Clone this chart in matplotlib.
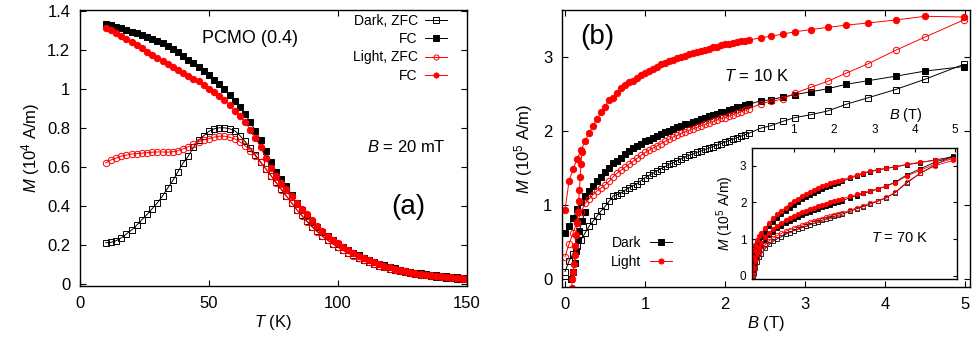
import numpy as np
import matplotlib
matplotlib.use('Agg')
import matplotlib.pyplot as plt

plt.rcParams['font.family'] = ['Liberation Sans', 'DejaVu Sans']
plt.rcParams['mathtext.fontset'] = 'custom'
plt.rcParams['mathtext.rm'] = 'Liberation Sans'
plt.rcParams['mathtext.it'] = 'Liberation Sans:italic'
plt.rcParams['mathtext.bf'] = 'Liberation Sans:bold'

# ---------------- Panel (a): M vs T at B = 20 mT ----------------
T_a = np.arange(10, 151, 2)
dark_zfc = [0.21, 0.212, 0.22, 0.235, 0.255, 0.275, 0.30, 0.328, 0.355, 0.385,
            0.415, 0.45, 0.49, 0.53, 0.575, 0.62, 0.655, 0.70, 0.735, 0.76,
            0.782, 0.795, 0.80, 0.80, 0.795, 0.785, 0.76, 0.73, 0.695, 0.66,
            0.625, 0.59, 0.555, 0.52, 0.485, 0.45, 0.415, 0.38, 0.35, 0.32,
            0.293, 0.268, 0.245, 0.224, 0.205, 0.188, 0.172, 0.158, 0.145, 0.133,
            0.121, 0.11, 0.10, 0.091, 0.083, 0.076, 0.069, 0.063, 0.058, 0.053,
            0.049, 0.045, 0.042, 0.039, 0.036, 0.033, 0.030, 0.027, 0.025, 0.023, 0.022]
dark_fc = [1.335, 1.327, 1.318, 1.31, 1.30, 1.294, 1.285, 1.275, 1.265, 1.255,
           1.245, 1.233, 1.22, 1.205, 1.19, 1.17, 1.15, 1.132, 1.112, 1.09,
           1.07, 1.048, 1.025, 0.998, 0.97, 0.94, 0.909, 0.87, 0.83, 0.785,
           0.735, 0.68, 0.625, 0.575, 0.535, 0.50, 0.455, 0.414, 0.38, 0.347,
           0.318, 0.29, 0.265, 0.243, 0.223, 0.203, 0.187, 0.172, 0.158, 0.145,
           0.131, 0.12, 0.11, 0.101, 0.093, 0.085, 0.078, 0.072, 0.066, 0.061,
           0.056, 0.052, 0.049, 0.046, 0.043, 0.040, 0.037, 0.035, 0.033, 0.031, 0.029]
light_zfc = [0.62, 0.635, 0.645, 0.655, 0.66, 0.665, 0.668, 0.67, 0.672, 0.675,
             0.676, 0.676, 0.675, 0.677, 0.683, 0.692, 0.703, 0.715, 0.728, 0.738,
             0.745, 0.752, 0.757, 0.757, 0.752, 0.743, 0.728, 0.708, 0.683, 0.655,
             0.622, 0.59, 0.555, 0.518, 0.483, 0.45, 0.415, 0.38, 0.348, 0.318,
             0.29, 0.265, 0.242, 0.222, 0.203, 0.186, 0.17, 0.156, 0.143, 0.131,
             0.12, 0.11, 0.10, 0.092, 0.084, 0.077, 0.07, 0.064, 0.059, 0.054,
             0.05, 0.046, 0.043, 0.04, 0.037, 0.034, 0.032, 0.030, 0.028, 0.026, 0.025]
light_fc = [1.31, 1.30, 1.285, 1.27, 1.255, 1.24, 1.225, 1.21, 1.19, 1.175,
            1.16, 1.145, 1.13, 1.11, 1.095, 1.08, 1.065, 1.05, 1.04, 1.02,
            1.00, 0.985, 0.965, 0.945, 0.915, 0.885, 0.86, 0.83, 0.79, 0.75,
            0.70, 0.645, 0.595, 0.55, 0.515, 0.485, 0.45, 0.415, 0.385, 0.355,
            0.325, 0.297, 0.27, 0.247, 0.226, 0.206, 0.189, 0.173, 0.158, 0.144,
            0.131, 0.12, 0.109, 0.10, 0.091, 0.083, 0.076, 0.07, 0.064, 0.059,
            0.054, 0.05, 0.046, 0.043, 0.04, 0.037, 0.035, 0.032, 0.030, 0.028, 0.026]

# ---------------- Panel (b): M vs B at T = 10 K ----------------
B_dense = np.round(np.arange(0, 2.31, 0.05), 2)
B_sparse = [2.45, 2.57, 2.72, 2.87, 3.07, 3.28, 3.51, 3.79, 4.13, 4.5, 4.98]
dark_up_dense = [0.10, 0.24, 0.34, 0.44, 0.53, 0.62, 0.71, 0.78, 0.85, 0.92,
                 0.98, 1.05, 1.12, 1.14, 1.16, 1.20, 1.23, 1.26, 1.29, 1.33,
                 1.37, 1.40, 1.43, 1.46, 1.49, 1.52, 1.55, 1.57, 1.60, 1.62,
                 1.65, 1.67, 1.69, 1.71, 1.73, 1.75, 1.77, 1.79, 1.81, 1.83,
                 1.85, 1.87, 1.89, 1.91, 1.93, 1.95, 1.97]
dark_up_sparse = [2.04, 2.07, 2.13, 2.18, 2.22, 2.27, 2.36, 2.45, 2.56, 2.70, 2.90]
dark_down_dense = [0.62, 0.72, 0.82, 0.94, 1.04, 1.12, 1.19, 1.25, 1.32, 1.38,
                   1.44, 1.50, 1.57, 1.60, 1.64, 1.69, 1.73, 1.77, 1.80, 1.83,
                   1.86, 1.88, 1.91, 1.93, 1.96, 1.98, 2.00, 2.02, 2.05, 2.07,
                   2.09, 2.10, 2.12, 2.14, 2.16, 2.18, 2.20, 2.21, 2.23, 2.25,
                   2.26, 2.28, 2.30, 2.32, 2.33, 2.35, 2.36]
dark_down_sparse = [2.41, 2.42, 2.46, 2.49, 2.53, 2.57, 2.63, 2.68, 2.74, 2.81, 2.87]
light_up_dense = [0.30, 0.47, 0.62, 0.77, 0.90, 1.02, 1.08, 1.14, 1.19, 1.23,
                  1.27, 1.32, 1.38, 1.43, 1.47, 1.51, 1.55, 1.59, 1.63, 1.67,
                  1.71, 1.74, 1.77, 1.80, 1.83, 1.86, 1.89, 1.92, 1.94, 1.97,
                  1.99, 2.01, 2.03, 2.05, 2.07, 2.09, 2.11, 2.13, 2.15, 2.17,
                  2.18, 2.20, 2.22, 2.24, 2.26, 2.28, 2.30]
light_up_sparse = [2.37, 2.40, 2.43, 2.51, 2.59, 2.67, 2.78, 2.91, 3.09, 3.27, 3.50]
light_down_dense = [0.93, 1.32, 1.48, 1.62, 1.74, 1.86, 1.97, 2.07, 2.16, 2.25,
                    2.33, 2.42, 2.45, 2.52, 2.58, 2.62, 2.66, 2.68, 2.72, 2.75,
                    2.78, 2.81, 2.84, 2.87, 2.90, 2.92, 2.94, 2.96, 2.98, 3.00,
                    3.02, 3.04, 3.05, 3.07, 3.08, 3.10, 3.11, 3.13, 3.14, 3.16,
                    3.17, 3.18, 3.19, 3.20, 3.21, 3.22, 3.23]
light_down_sparse = [3.26, 3.28, 3.31, 3.34, 3.37, 3.40, 3.43, 3.46, 3.50, 3.55, 3.54]
dark_ret_B = [0.08, 0.10, 0.12, 0.14, 0.16, 0.18, 0.21, 0.25]
dark_ret_M = [0.0, 0.10, 0.22, 0.38, 0.52, 0.65, 0.78, 0.90]
light_ret_B = [0.085, 0.09, 0.10, 0.11, 0.12, 0.13, 0.14, 0.15, 0.16, 0.17, 0.18, 0.19, 0.20, 0.21]
light_ret_M = [-0.12, 0.0, 0.10, 0.20, 0.32, 0.45, 0.60, 0.75, 0.90, 1.05, 1.20, 1.38, 1.55, 1.72]

# ---------------- Inset: M vs B at T = 70 K ----------------
B_in = [0.0, 0.02, 0.05, 0.1, 0.15, 0.2, 0.3, 0.4, 0.5, 0.6, 0.7, 0.8, 0.9, 1.0,
        1.1, 1.2, 1.3, 1.4, 1.5, 1.6, 1.7, 1.8, 1.9, 2.0, 2.1, 2.2, 2.4, 2.57,
        2.73, 2.9, 3.1, 3.3, 3.52, 3.8, 4.14, 4.5, 4.95]
in_light_top = [0.5, 0.7, 0.85, 0.98, 1.08, 1.16, 1.3, 1.45, 1.57, 1.68, 1.77, 1.86,
                1.95, 2.03, 2.1, 2.17, 2.23, 2.29, 2.35, 2.4, 2.44, 2.48, 2.52, 2.55,
                2.58, 2.62, 2.69, 2.75, 2.81, 2.86, 2.9, 2.94, 2.98, 3.04, 3.1, 3.15, 3.2]
in_dark_top = [0.4, 0.6, 0.75, 0.88, 0.98, 1.06, 1.2, 1.35, 1.47, 1.58, 1.68, 1.77,
               1.86, 1.94, 2.02, 2.09, 2.15, 2.21, 2.27, 2.32, 2.37, 2.42, 2.46, 2.5,
               2.54, 2.58, 2.66, 2.73, 2.79, 2.84, 2.89, 2.93, 2.97, 3.03, 3.09, 3.16, 3.25]
in_light_mid = [0.0, 0.2, 0.42, 0.62, 0.76, 0.88, 1.05, 1.18, 1.28, 1.37, 1.45, 1.52,
                1.58, 1.64, 1.69, 1.74, 1.78, 1.82, 1.86, 1.9, 1.93, 1.97, 2.0, 2.03,
                2.06, 2.1, 2.17, 2.22, 2.27, 2.32, 2.38, 2.45, 2.54, 2.72, 2.88, 3.05, 3.2]
in_dark_mid = [0.0, 0.15, 0.35, 0.54, 0.68, 0.8, 0.97, 1.1, 1.2, 1.29, 1.37, 1.44,
               1.5, 1.56, 1.61, 1.66, 1.71, 1.75, 1.79, 1.83, 1.87, 1.91, 1.94, 1.98,
               2.01, 2.05, 2.13, 2.19, 2.25, 2.3, 2.37, 2.45, 2.56, 2.75, 2.92, 3.1, 3.25]
in_light_low = [0.0, 0.12, 0.3, 0.48, 0.6, 0.7, 0.85, 0.96, 1.04, 1.1, 1.16, 1.21,
                1.26, 1.3, 1.34, 1.38, 1.42, 1.46, 1.5, 1.53, 1.56, 1.6, 1.63, 1.66,
                1.69, 1.72, 1.79, 1.85, 1.91, 1.98, 2.05, 2.14, 2.28, 2.55, 2.8, 3.0, 3.15]
in_dark_low = [0.0, 0.08, 0.22, 0.38, 0.5, 0.6, 0.75, 0.86, 0.94, 1.01, 1.07, 1.13,
               1.18, 1.23, 1.27, 1.31, 1.35, 1.39, 1.43, 1.47, 1.51, 1.55, 1.58, 1.62,
               1.65, 1.68, 1.76, 1.83, 1.89, 1.96, 2.04, 2.13, 2.27, 2.53, 2.8, 3.02, 3.28]

RED = '#ff0000'
BLK = '#000000'

fig = plt.figure(figsize=(9.73, 3.40), dpi=100)

def style_axes(ax, size=12, length=4.5, pad=7):
    ax.tick_params(direction='in', length=length, width=0.8, labelsize=size, pad=pad,
                   top=True, right=True)
    for s in ax.spines.values():
        s.set_linewidth(1.0)

# ---------- (a) ----------
axa = fig.add_axes([0.0822, 0.159, 0.3977, 0.8116])
ms = 4.6
axa.plot(T_a, dark_zfc, '-', color=BLK, lw=0.7, marker='s', ms=ms, mfc='none', mec=BLK, mew=0.7,
         label='Dark, ZFC')
axa.plot(T_a, dark_fc, '-', color=BLK, lw=0.7, marker='s', ms=ms, mfc=BLK, mec=BLK, mew=0.7,
         label='FC')
axa.plot(T_a, light_zfc, '-', color=RED, lw=0.7, marker='o', ms=ms, mfc='none', mec=RED, mew=0.7,
         label='Light, ZFC')
axa.plot(T_a, light_fc, '-', color=RED, lw=0.7, marker='o', ms=ms, mfc=RED, mec=RED, mew=0.7,
         label='FC')
axa.set_xlim(0, 150)
axa.set_ylim(-0.012, 1.405)
axa.set_xticks([0, 50, 100, 150])
axa.set_yticks([0, 0.2, 0.4, 0.6, 0.8, 1.0, 1.2, 1.4])
axa.set_yticklabels(['0', '0.2', '0.4', '0.6', '0.8', '1', '1.2', '1.4'])
style_axes(axa)
axa.set_xlabel('$T$ (K)', fontsize=12, labelpad=2)
axa.set_ylabel('$M$ (10$^4$ A/m)', fontsize=12, labelpad=4)
leg = axa.legend(loc='upper right', bbox_to_anchor=(0.948, 0.985), frameon=False,
                 markerfirst=False, fontsize=10, handlelength=1.6, handletextpad=0.5,
                 labelspacing=0.3, borderpad=0, borderaxespad=0, markerscale=0.8)
axa.text(0.44, 0.895, 'PCMO (0.4)', transform=axa.transAxes, fontsize=13,
         ha='center', va='center')
axa.text(0.945, 0.504, '$B$ = 20 mT', transform=axa.transAxes, fontsize=12,
         ha='right', va='center')
axa.text(0.848, 0.286, '(a)', transform=axa.transAxes, fontsize=20,
         ha='center', va='center')

# ---------- (b) ----------
axb = fig.add_axes([0.5776, 0.156, 0.4193, 0.8146])
msb = 4.6
B_all = list(B_dense) + B_sparse
axb.plot(B_all, dark_up_dense + dark_up_sparse, '-', color=BLK, lw=0.7, marker='s', ms=msb,
         mfc='none', mec=BLK, mew=0.7)
axb.plot(B_all, dark_down_dense + dark_down_sparse, '-', color=BLK, lw=0.7, marker='s', ms=msb,
         mfc=BLK, mec=BLK, mew=0.7, label='Dark')
axb.plot(dark_ret_B, dark_ret_M, '-', color=BLK, lw=0.7, marker='s', ms=msb,
         mfc=BLK, mec=BLK, mew=0.7)
axb.plot(B_all, light_up_dense + light_up_sparse, '-', color=RED, lw=0.7, marker='o', ms=msb,
         mfc='none', mec=RED, mew=0.7)
axb.plot(B_all, light_down_dense + light_down_sparse, '-', color=RED, lw=0.7, marker='o', ms=msb,
         mfc=RED, mec=RED, mew=0.7, label='Light')
axb.plot(light_ret_B, light_ret_M, '-', color=RED, lw=0.7, marker='o', ms=msb,
         mfc=RED, mec=RED, mew=0.7)
axb.set_xlim(-0.0375, 5.06)
axb.set_ylim(-0.108, 3.635)
axb.set_xticks([0, 1, 2, 3, 4, 5])
axb.set_yticks([0, 1, 2, 3])
style_axes(axb)
axb.set_xlabel('$B$ (T)', fontsize=12, labelpad=2)
axb.set_ylabel('$M$ (10$^5$ A/m)', fontsize=12, labelpad=6)
axb.legend(loc='upper right', bbox_to_anchor=(0.27, 0.185), frameon=False,
           markerfirst=False, fontsize=10, handlelength=1.6, handletextpad=0.6,
           labelspacing=0.35, borderpad=0, borderaxespad=0, markerscale=0.8)
axb.text(0.086, 0.9025, '(b)', transform=axb.transAxes, fontsize=20,
         ha='center', va='center')
axb.text(0.478, 0.762, '$T$ = 10 K', transform=axb.transAxes, fontsize=12,
         ha='center', va='center')

# ---------- inset ----------
axi = fig.add_axes([0.7729, 0.1794, 0.2107, 0.3866])
msi = 3.2
axi.plot(B_in, in_dark_low, '-', color=BLK, lw=0.6, marker='s', ms=msi, mfc='none', mec=BLK, mew=0.6)
axi.plot(B_in, in_dark_mid, '-', color=BLK, lw=0.6, marker='s', ms=msi, mfc=BLK, mec=BLK, mew=0.6)
axi.plot(B_in, in_dark_top, '-', color=BLK, lw=0.6, marker='s', ms=msi, mfc=BLK, mec=BLK, mew=0.6)
axi.plot(B_in, in_light_low, '-', color=RED, lw=0.6, marker='o', ms=msi, mfc='none', mec=RED, mew=0.6)
axi.plot(B_in, in_light_mid, '-', color=RED, lw=0.6, marker='o', ms=msi, mfc=RED, mec=RED, mew=0.6)
axi.plot(B_in, in_light_top, '-', color=RED, lw=0.6, marker='o', ms=msi, mfc=RED, mec=RED, mew=0.6)
axi.set_xlim(-0.03, 5.05)
axi.set_ylim(-0.09, 3.5)
axi.set_xticks([1, 2, 3, 4, 5])
axi.set_yticks([0, 1, 2, 3])
axi.tick_params(direction='in', length=3, width=0.8, labelsize=8.5, pad=4,
                top=True, bottom=False, labeltop=True, labelbottom=False,
                right=True, left=True)
axi.tick_params(axis='x', pad=8)
for s in axi.spines.values():
    s.set_linewidth(1.0)
axi.xaxis.set_label_position('top')
axi.set_xlabel('$B$ (T)', fontsize=10.5, labelpad=2)
axi.xaxis.set_label_coords(0.75, 1.22)
axi.set_ylabel('$M$ (10$^5$ A/m)', fontsize=10, labelpad=3)
axi.text(0.722, 0.31, '$T$ = 70 K', transform=axi.transAxes, fontsize=10.5,
         ha='center', va='center')

fig.savefig('out.png', dpi=100)
